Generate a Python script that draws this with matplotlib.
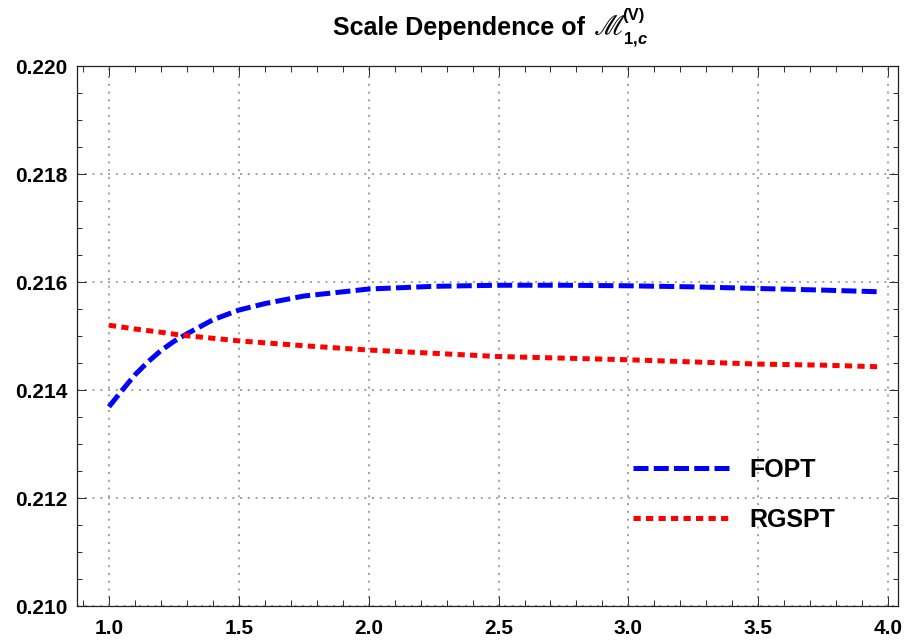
import numpy as np
import matplotlib.pyplot as plt
from matplotlib.ticker import MultipleLocator, FormatStrFormatter

plt.rcParams['font.family'] = ['Liberation Sans', 'DejaVu Sans']
plt.rcParams['font.weight'] = 'bold'
plt.rcParams['mathtext.fontset'] = 'custom'
plt.rcParams['mathtext.rm'] = 'Liberation Sans:bold'
plt.rcParams['mathtext.it'] = 'Liberation Sans:bold:italic'
plt.rcParams['mathtext.bf'] = 'Liberation Sans:bold'

# scale mu (GeV) and the two expansions
mu_fopt = [1.0, 1.05, 1.1, 1.15, 1.2, 1.25, 1.3, 1.4, 1.5, 1.6, 1.75, 2.0,
           2.25, 2.5, 2.75, 3.0, 3.25, 3.5, 3.75, 3.96]
fopt = [0.21369, 0.21399, 0.21428, 0.21452, 0.21473, 0.21490, 0.21504,
        0.21530, 0.21548, 0.21560, 0.21574, 0.21587, 0.21592, 0.21594,
        0.21594, 0.21593, 0.21591, 0.21588, 0.21585, 0.21582]

mu_rgspt = [1.0, 1.1, 1.2, 1.27, 1.5, 1.75, 2.0, 2.25, 2.5, 2.75, 3.0,
            3.25, 3.5, 3.75, 3.97]
rgspt = [0.21520, 0.21513, 0.21507, 0.21502, 0.21491, 0.21482, 0.21474,
         0.21468, 0.21462, 0.21459, 0.21456, 0.21452, 0.21448, 0.21446,
         0.21443]

W, H = 907, 644
fig = plt.figure(figsize=(W / 100, H / 100), dpi=100)
ax = fig.add_axes([0.0849, 0.059, 0.9052, 0.8385])

ax.plot(mu_fopt, fopt, color=(0, 0, 1), lw=3.6, dashes=(3.0, 1.05),
        dash_capstyle='butt', label='FOPT')
ax.plot(mu_rgspt, rgspt, color=(1, 0, 0), lw=3.6, dashes=(1.45, 1.05),
        dash_capstyle='butt', label='RGSPT')

ax.set_xlim(0.877, 4.038)
ax.set_ylim(0.210, 0.220)

ax.xaxis.set_major_locator(MultipleLocator(0.5))
ax.xaxis.set_minor_locator(MultipleLocator(0.1))
ax.yaxis.set_major_locator(MultipleLocator(0.002))
ax.yaxis.set_minor_locator(MultipleLocator(0.0005))
ax.xaxis.set_major_formatter(FormatStrFormatter('%.1f'))
ax.yaxis.set_major_formatter(FormatStrFormatter('%.3f'))

ax.tick_params(which='both', direction='in', top=True, right=True,
               width=0.75, color='#333333', labelsize=15, pad=7)
ax.tick_params(axis='x', which='major', length=7.5, pad=9)
ax.tick_params(axis='x', which='minor', length=4.5)
ax.tick_params(axis='y', which='major', length=6.5)
ax.tick_params(axis='y', which='minor', length=3.8)

for s in ax.spines.values():
    s.set_linewidth(0.9)
    s.set_color('#222222')

ax.grid(True, which='major', color='#999999', lw=1.3, ls=(0, (1.1, 3.2)))
ax.set_axisbelow(True)

leg = ax.legend(loc='center left', bbox_to_anchor=(0.677, 0.2056),
                frameon=False, fontsize=18, handlelength=3.96,
                handletextpad=0.72, labelspacing=1.05, borderpad=0,
                borderaxespad=0)

# title, built in pieces: sans text, script M, then sub/superscripts
base = 1 - 35 / H
fig.text(333 / W, base, 'Scale Dependence of', ha='left', va='baseline',
         fontsize=18, fontweight='bold')
fig.text(594 / W, base, '\u2133', ha='left', va='baseline',
         fontsize=21, fontweight='normal',
         family=['STIXGeneral', 'DejaVu Serif', 'DejaVu Sans'])
fig.text(623 / W, 1 - 43 / H, r'$1,\!c$', ha='left', va='baseline',
         fontsize=12)
fig.text(622 / W, 1 - 20 / H, '(V)', ha='left', va='baseline',
         fontsize=12, fontweight='bold')

fig.savefig('out.png', dpi=100)
